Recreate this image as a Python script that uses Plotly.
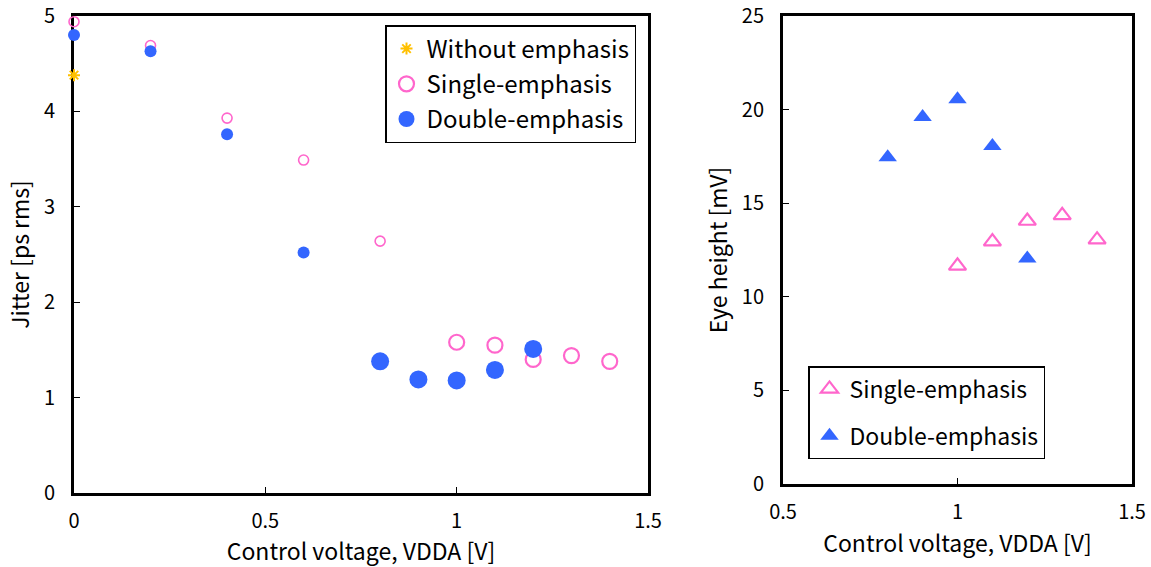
import plotly.graph_objects as go

# ---- data: left panel (jitter) ----
vdda_without = [0.0]
jitter_without = [4.38]

vdda_single = [0.0, 0.2, 0.4, 0.6, 0.8, 1.0, 1.1, 1.2, 1.3, 1.4]
jitter_single = [4.94, 4.69, 3.93, 3.49, 2.64, 1.58, 1.55, 1.40, 1.44, 1.38]

vdda_double = [0.0, 0.2, 0.4, 0.6, 0.8, 0.9, 1.0, 1.1, 1.2]
jitter_double = [4.80, 4.63, 3.76, 2.52, 1.38, 1.19, 1.18, 1.29, 1.51]

# ---- data: right panel (eye height) ----
vdda_eye_single = [1.0, 1.1, 1.2, 1.3, 1.4]
eye_single = [11.65, 12.95, 14.05, 14.35, 13.05]

vdda_eye_double = [0.8, 0.9, 1.0, 1.1, 1.2]
eye_double = [17.45, 19.6, 20.55, 18.05, 12.05]

PINK = "#FF66CC"
BLUE = "#3366FF"
GOLD = "#FFC000"
FONT = "Noto Sans CJK JP"


def split(xs, ys, cut):
    small = [(x, y) for x, y in zip(xs, ys) if x < cut]
    large = [(x, y) for x, y in zip(xs, ys) if x >= cut]
    return ([p[0] for p in small], [p[1] for p in small],
            [p[0] for p in large], [p[1] for p in large])


fig = go.Figure()

# left panel
fig.add_trace(go.Scatter(
    x=vdda_without, y=jitter_without, mode="markers", name="Without emphasis",
    marker=dict(symbol="asterisk-open", size=10, color=GOLD, opacity=1,
                line=dict(color=GOLD, width=2)),
    xaxis="x", yaxis="y", legend="legend", legendgroup="a", cliponaxis=False))

sx_s, sy_s, sx_l, sy_l = split(vdda_single, jitter_single, 0.9)
fig.add_trace(go.Scatter(
    x=sx_l, y=sy_l, mode="markers", name="Single-emphasis",
    marker=dict(symbol="circle-open", size=15, color=PINK, opacity=1,
                line=dict(color=PINK, width=2.2)),
    xaxis="x", yaxis="y", legend="legend", legendgroup="b", cliponaxis=False))
fig.add_trace(go.Scatter(
    x=sx_s, y=sy_s, mode="markers", name="Single-emphasis", showlegend=False,
    marker=dict(symbol="circle-open", size=10, color=PINK, opacity=1,
                line=dict(color=PINK, width=1.6)),
    xaxis="x", yaxis="y", legendgroup="b", cliponaxis=False))

dx_s, dy_s, dx_l, dy_l = split(vdda_double, jitter_double, 0.7)
fig.add_trace(go.Scatter(
    x=dx_l, y=dy_l, mode="markers", name="Double-emphasis",
    marker=dict(symbol="circle", size=18, color=BLUE, opacity=1, line=dict(width=0)),
    xaxis="x", yaxis="y", legend="legend", legendgroup="c", cliponaxis=False))
fig.add_trace(go.Scatter(
    x=dx_s, y=dy_s, mode="markers", name="Double-emphasis", showlegend=False,
    marker=dict(symbol="circle", size=12, color=BLUE, opacity=1, line=dict(width=0)),
    xaxis="x", yaxis="y", legendgroup="c", cliponaxis=False))

# right panel
fig.add_trace(go.Scatter(
    x=vdda_eye_single, y=eye_single, mode="markers", name="Single-emphasis",
    marker=dict(symbol="triangle-up-open", size=15, color=PINK, opacity=1,
                line=dict(color=PINK, width=2.2)),
    xaxis="x2", yaxis="y2", legend="legend2", legendgroup="d", cliponaxis=False))
fig.add_trace(go.Scatter(
    x=vdda_eye_double, y=eye_double, mode="markers", name="Double-emphasis",
    marker=dict(symbol="triangle-up", size=16, color=BLUE, opacity=1, line=dict(width=0)),
    xaxis="x2", yaxis="y2", legend="legend2", legendgroup="e", cliponaxis=False))

axis_common = dict(
    showline=True, linewidth=3, linecolor="black", mirror=True,
    ticks="inside", ticklen=6, tickwidth=1, tickcolor="black",
    showgrid=False, zeroline=False, layer="below traces", automargin=False,
    tickfont=dict(family=FONT, size=20, color="black"),
)
x_common = dict(axis_common, ticklabelstandoff=8)
y_common = dict(axis_common, ticklabelstandoff=12)
TITLE_FONT = dict(family=FONT, size=23, color="black")

fig.update_layout(
    template="none",
    width=1151, height=567,
    margin=dict(l=0, r=0, t=0, b=0),
    paper_bgcolor="white", plot_bgcolor="white",
    font=dict(family=FONT, color="black"),
    xaxis=dict(domain=[74/1151, 648/1151], range=[0, 1.5], dtick=0.5, anchor="y",
               title=dict(text="Control voltage, VDDA [V]", font=TITLE_FONT, standoff=12),
               **x_common),
    yaxis=dict(domain=[1-493/567, 1-16/567], range=[0, 5], dtick=1, anchor="x",
               title=dict(text="Jitter [ps rms]", font=TITLE_FONT, standoff=8),
               **y_common),
    xaxis2=dict(domain=[783/1151, 1132/1151], range=[0.5, 1.5], dtick=0.5, anchor="y2",
                title=dict(text="Control voltage, VDDA [V]", font=TITLE_FONT, standoff=12),
                **x_common),
    yaxis2=dict(domain=[1-484/567, 1-16/567], range=[0, 25], dtick=5, anchor="x2",
                title=dict(text="Eye height [mV]", font=TITLE_FONT, standoff=8),
                **y_common),
    legend=dict(x=385/1151, y=1-25/567, xanchor="left", yanchor="top",
                bgcolor="white", bordercolor="black", borderwidth=1.5,
                font=dict(family=FONT, size=24, color="black"),
                tracegroupgap=1, itemwidth=30),
    legend2=dict(x=808/1151, y=1-366/567, xanchor="left", yanchor="top",
                 bgcolor="white", bordercolor="black", borderwidth=1.5,
                 font=dict(family=FONT, size=23, color="black"),
                 tracegroupgap=14, itemwidth=30),
    showlegend=True,
)

fig.write_html("out.html")
